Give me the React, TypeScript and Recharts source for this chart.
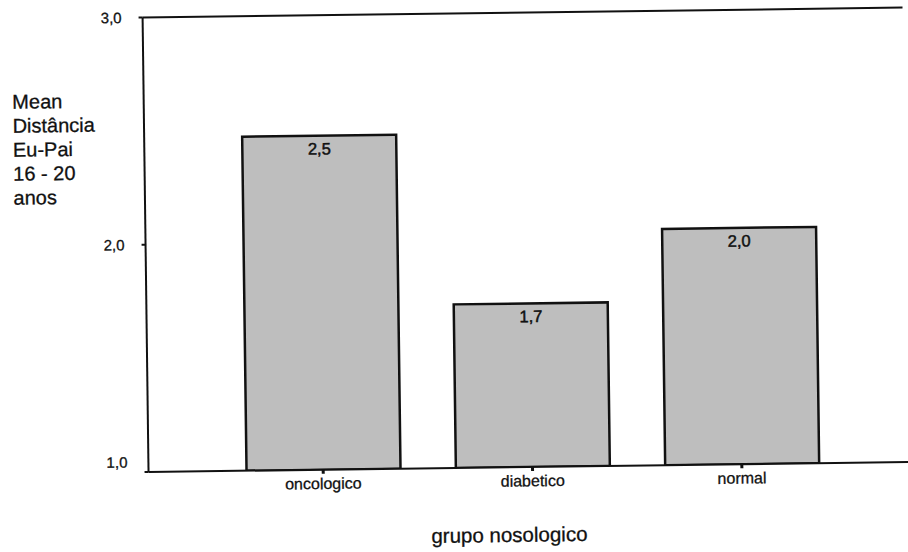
import React from 'react';
import { BarChart, Bar, XAxis, YAxis, LabelList, ReferenceLine, Label } from 'recharts';

const categories = ['oncologico', 'diabetico', 'normal'];
const meanValues = [2.47, 1.72, 2.04];
const yTicks = [1, 2, 3];
const yTitleLines = ['Mean', 'Distância', 'Eu-Pai', '16 - 20', 'anos'];
const xTitle = 'grupo nosologico';

const data = categories.map((c, i) => ({ name: c, value: meanValues[i] }));

const FONT = '"Liberation Sans", Arial, Helvetica, sans-serif';
const fmt = (v: number) => Number(v).toFixed(1).replace('.', ',');

const YTick = (props: any) => {
  const { x, y, payload } = props;
  const dy = payload.value === 1 ? -10 : 0;
  return (
    <text x={x} y={y + dy} dy="0.35em" textAnchor="end" fontSize={15} fill="#111" stroke="#111" strokeWidth={0.3} fontFamily={FONT}>
      {fmt(payload.value)}
    </text>
  );
};

const XTick = (props: any) => {
  const { x, y, payload } = props;
  return (
    <text x={x} y={y} dy="0.71em" textAnchor="middle" fontSize={16} fill="#111" stroke="#111" strokeWidth={0.3} fontFamily={FONT}>
      {payload.value}
    </text>
  );
};

const YTitle = () => (
  <text x={14.6} y={103} fontSize={20} fill="#111" stroke="#111" strokeWidth={0.3} fontFamily={FONT}>
    {yTitleLines.map((line, i) => (
      <tspan key={i} x={14.6} dy={i === 0 ? 0 : 24}>
        {line}
      </tspan>
    ))}
  </text>
);

const XTitle = () => (
  <text x={506} y={542.7} textAnchor="middle" fontSize={20.5} fill="#111" stroke="#111" strokeWidth={0.3} fontFamily={FONT}>
    {xTitle}
  </text>
);

export default function App() {
  return (
    <div style={{ position: 'absolute', left: 0, top: 0, width: 908, height: 552, overflow: 'hidden', background: '#fff' }}>
      <div style={{ width: 908, height: 552, transform: 'rotate(-0.75deg)', transformOrigin: '454px 276px' }}>
        <BarChart
          width={908}
          height={552}
          data={data}
          margin={{ top: 13.5, right: 2, bottom: 44, left: 0 }}
          barSize={154}
        >
          <XAxis
            dataKey="name"
            height={40}
            padding={{ left: 70, right: 62 }}
            tickSize={4}
            tickMargin={4}
            tick={<XTick />}
            tickLine={{ stroke: '#111', strokeWidth: 3 }}
            axisLine={{ stroke: '#111', strokeWidth: 2 }}
            interval={0}
          >
            <Label content={<XTitle />} />
          </XAxis>
          <YAxis
            width={146}
            domain={[1, 3]}
            ticks={yTicks}
            allowDataOverflow
            tickSize={4}
            tickMargin={17}
            tick={<YTick />}
            tickLine={{ stroke: '#111', strokeWidth: 2 }}
            axisLine={{ stroke: '#111', strokeWidth: 2 }}
          >
            <Label content={<YTitle />} />
          </YAxis>
          <ReferenceLine y={3} stroke="#111" strokeWidth={2} ifOverflow="extendDomain" />
          <Bar dataKey="value" fill="#bebebe" stroke="#111" strokeWidth={2.5} isAnimationActive={false}>
            <LabelList
              dataKey="value"
              position="insideTop"
              offset={7}
              formatter={(v: any) => fmt(v)}
              fontSize={16.5}
              fill="#111"
              stroke="#111"
              strokeWidth={0.5}
              fontFamily={FONT}
            />
          </Bar>
        </BarChart>
      </div>
    </div>
  );
}
